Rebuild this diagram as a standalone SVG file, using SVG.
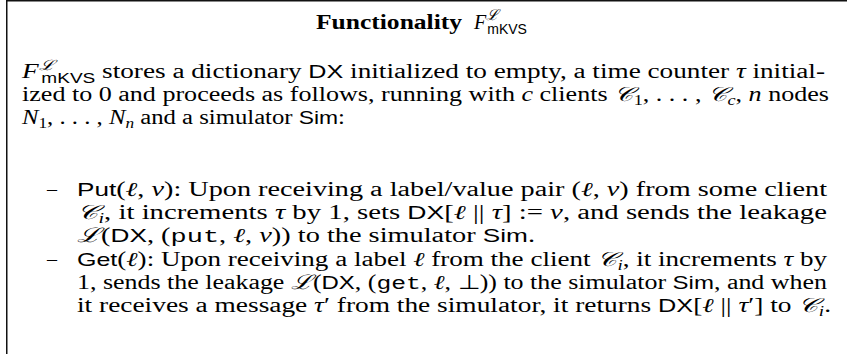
<svg xmlns="http://www.w3.org/2000/svg" width="847" height="354" viewBox="0 0 847 354">
  <style>
    .t { font-family: "Liberation Serif", serif; font-size: 20px; fill: #000; }
    .b { font-weight: bold; }
    .i { font-style: italic; }
    .sf { font-family: "Liberation Sans", sans-serif; font-style: normal; font-size: 18.5px; }
    .tt { font-family: "Liberation Mono", monospace; font-size: 19px; }
    .s { font-size: 14px; }
    .ssf { font-family: "Liberation Sans", sans-serif; font-style: normal; font-size: 14px; }
    .cal { font-family: "DejaVu Serif", serif; font-style: italic; }
    .frame { stroke: #111; stroke-width: 1.5; fill: none; }
  </style>

  <!-- box frame: top rule and left rule -->
  <g id="frame">
    <line class="frame" x1="6.75" y1="0" x2="6.75" y2="354"/>
    <line class="frame" x1="6" y1="0.75" x2="847" y2="0.75"/>
  </g>

  <!-- heading -->
  <g id="title">
    <text class="t b" x="316" y="29" font-size="23" textLength="146" lengthAdjust="spacingAndGlyphs">Functionality</text>
    <text class="t" x="474" y="29" font-size="23"><tspan class="i">F</tspan><tspan class="cal" font-size="15" dy="-9">ℒ</tspan><tspan class="ssf" font-size="16" dx="-11" dy="14">mKVS</tspan></text>
  </g>

  <!-- introductory paragraph -->
  <g id="intro">
    <text class="t" x="22" y="78" textLength="803" lengthAdjust="spacingAndGlyphs"><tspan class="i">F</tspan><tspan class="cal s" dy="-8">ℒ</tspan><tspan class="ssf" dx="-10" dy="13">mKVS</tspan><tspan dy="-5"> stores a dictionary </tspan><tspan class="sf">DX</tspan> initialized to empty, a time counter <tspan class="i">τ</tspan> initial-</text>
    <text class="t" x="22" y="101" textLength="807" lengthAdjust="spacingAndGlyphs">ized to 0 and proceeds as follows, running with <tspan class="i">c</tspan> clients <tspan class="cal">𝒞</tspan><tspan class="s" dy="4">1</tspan><tspan dy="-4">, . . . , </tspan><tspan class="cal">𝒞</tspan><tspan class="s i" dy="4">c</tspan><tspan dy="-4">, </tspan><tspan class="i">n</tspan> nodes</text>
    <text class="t" x="22" y="124" textLength="323" lengthAdjust="spacingAndGlyphs"><tspan class="i">N</tspan><tspan class="s" dy="4">1</tspan><tspan dy="-4">, . . . , </tspan><tspan class="i">N</tspan><tspan class="s i" dy="4">n</tspan><tspan dy="-4"> and a simulator </tspan><tspan class="sf">Sim</tspan>:</text>
  </g>

  <!-- Put operation -->
  <g id="item-put">
    <text class="t" x="47" y="196">–</text>
    <text class="t" x="77" y="196" textLength="750" lengthAdjust="spacingAndGlyphs"><tspan class="sf">Put</tspan>(<tspan class="i">ℓ</tspan>, <tspan class="i">v</tspan>): Upon receiving a label/value pair (<tspan class="i">ℓ</tspan>, <tspan class="i">v</tspan>) from some client</text>
    <text class="t" x="77" y="219" textLength="750" lengthAdjust="spacingAndGlyphs"><tspan class="cal">𝒞</tspan><tspan class="s i" dy="4">i</tspan><tspan dy="-4">, it increments </tspan><tspan class="i">τ</tspan> by 1, sets <tspan class="sf">DX</tspan>[<tspan class="i">ℓ</tspan> || <tspan class="i">τ</tspan>] := <tspan class="i">v</tspan>, and sends the leakage</text>
    <text class="t" x="77" y="242" textLength="458" lengthAdjust="spacingAndGlyphs"><tspan class="cal">ℒ</tspan>(<tspan class="sf">DX</tspan>, (<tspan class="tt">put</tspan>, <tspan class="i">ℓ</tspan>, <tspan class="i">v</tspan>)) to the simulator <tspan class="sf">Sim</tspan>.</text>
  </g>

  <!-- Get operation -->
  <g id="item-get">
    <text class="t" x="47" y="266">–</text>
    <text class="t" x="77" y="266" textLength="750" lengthAdjust="spacingAndGlyphs"><tspan class="sf">Get</tspan>(<tspan class="i">ℓ</tspan>): Upon receiving a label <tspan class="i">ℓ</tspan> from the client <tspan class="cal">𝒞</tspan><tspan class="s i" dy="4">i</tspan><tspan dy="-4">, it increments </tspan><tspan class="i">τ</tspan> by</text>
    <text class="t" x="77" y="289" textLength="750" lengthAdjust="spacingAndGlyphs">1, sends the leakage <tspan class="cal">ℒ</tspan>(<tspan class="sf">DX</tspan>, (<tspan class="tt">get</tspan>, <tspan class="i">ℓ</tspan>, ⊥)) to the simulator <tspan class="sf">Sim</tspan>, and when</text>
    <text class="t" x="77" y="312" textLength="754" lengthAdjust="spacingAndGlyphs">it receives a message <tspan class="i">τ</tspan>′ from the simulator, it returns <tspan class="sf">DX</tspan>[<tspan class="i">ℓ</tspan> || <tspan class="i">τ</tspan>′] to <tspan class="cal">𝒞</tspan><tspan class="s i" dy="4">i</tspan><tspan dy="-4">.</tspan></text>
  </g>
</svg>
